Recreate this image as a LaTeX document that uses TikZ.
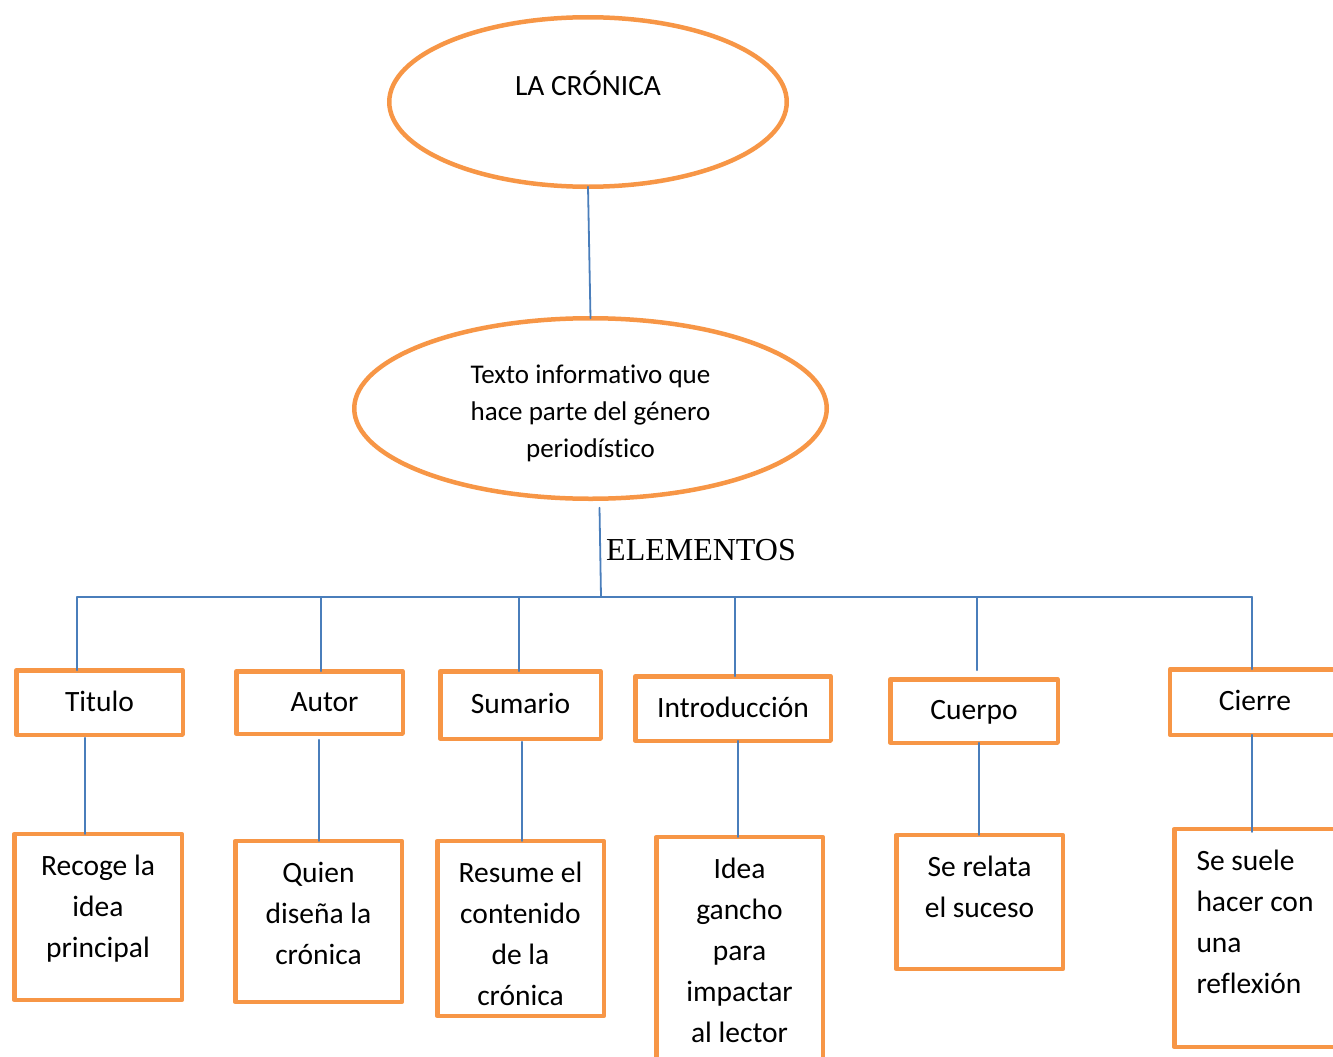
\documentclass[tikz,border=0pt]{standalone}
\usepackage{fontspec}
\setmainfont{Carlito}[Ligatures=NoCommon]
\newfontfamily\romanfont{Liberation Serif}
\usetikzlibrary{shapes.geometric}
\definecolor{naranja}{HTML}{F79646}
\definecolor{azul}{HTML}{4A7EBB}
\tikzset{
  oval/.style={ellipse,draw=naranja,line width=4.5pt,inner sep=0pt,outer sep=0pt,
    align=center,font=\fontsize{27}{37}\selectfont},
  parte/.style={rectangle,draw=naranja,line width=4.5pt,inner sep=0pt,outer sep=0pt,
    text height=20pt,text depth=3pt,font=\fontsize{29.5}{41}\selectfont},
  detalle/.style={rectangle,draw=naranja,line width=4.5pt,inner sep=0pt,outer sep=0pt,
    align=center,anchor=north,font=\fontsize{29.5}{41}\selectfont},
  enlace/.style={draw=azul,line width=1.8pt}
}
\begin{document}
\begin{tikzpicture}[x=1pt,y=-1pt,line cap=round,line join=round]
  \useasboundingbox (0,0) rectangle (1333,1057);
  % ovalos
  \node[oval,minimum width=397.5,minimum height=169.5,text height=21pt,text depth=34pt,
    font=\fontsize{29.4}{37}\selectfont] (cronica) at (588,102) {LA CRÓNICA};
  \node[oval,minimum width=472.5,minimum height=180.5,text height=110pt,text depth=13pt]
    (texto) at (590.5,408.5) {Texto informativo que\\hace parte del género\\periodístico};
  \draw[enlace] (cronica.south) -- (texto.north);
  % elementos
  \coordinate (busL) at (77,597); \coordinate (busR) at (1252,597);
  \coordinate (elem) at (601,597);
  \node[anchor=base west,inner sep=0pt,font=\romanfont\fontsize{32}{36}\selectfont]
    (etiq) at (606,560) {ELEMENTOS};
  \draw[enlace] ([xshift=9pt,yshift=-9pt]texto.south) -- (elem);
  \draw[enlace] (busL) -- (busR);
  % partes
  \node[parte,minimum width=166.5,minimum height=64.5] (tit) at (99.5,702.5) {Titulo};
  \node[parte,minimum width=166.5,minimum height=62.5] (aut) at (319.5,702.5) {\hspace{10pt}Autor};
  \node[parte,minimum width=160.5,minimum height=67.5] (sum) at (520.5,705) {Sumario};
  \node[parte,minimum width=195.5,minimum height=64.5] (int) at (733,708.5) {Introducción};
  \node[parte,minimum width=167.5,minimum height=63.5] (cue) at (974,711) {Cuerpo};
  \node[parte,minimum width=170,minimum height=65.5] (cie) at (1255,702) {Cierre};
  \draw[enlace] (busL) -- (busL |- tit.north);
  \draw[enlace] ([xshift=1.5pt]aut.north) -- ([xshift=1.5pt]aut.north |- busL);
  \draw[enlace] ([xshift=-1.5pt]sum.north) -- ([xshift=-1.5pt]sum.north |- busL);
  \draw[enlace] ([xshift=2pt]int.north) -- ([xshift=2pt]int.north |- busL);
  \draw[enlace] ([xshift=3pt,yshift=9pt]cue.north) -- ([xshift=3pt]cue.north |- busL);
  \draw[enlace] (busR) -- (busR |- cie.north);
  % detalles
  \node[detalle,minimum width=167.5,text height=123.5pt,text depth=42.5pt] (rec) at (98,834)
    {Recoge la\\idea\\principal};
  \node[detalle,minimum width=166.5,text height=123.5pt,text depth=37.5pt] (qui) at (318.5,841)
    {Quien\\diseña la\\crónica};
  \node[detalle,minimum width=166.5,text height=164.5pt,text depth=10.5pt] (res) at (520.5,841)
    {Resume el\\contenido\\de la\\crónica};
  \node[detalle,minimum width=166.5,text height=205.5pt,text depth=37.5pt] (ide) at (739.5,837)
    {Idea\\gancho\\para\\impactar\\al lector};
  \node[detalle,minimum width=166.5,text height=82.5pt,text depth=51.5pt] (rel) at (979.5,835)
    {Se relata\\el suceso};
  \node[detalle,align=left,minimum width=161.5,text height=164.5pt,text depth=53.5pt]
    (ref) at (1255,829) {Se suele\\hacer con\\una\\reflexión};
  \draw[enlace] ([xshift=-14.5pt,yshift=-3pt]tit.south) -- ([xshift=-14.5pt]tit.south |- rec.north);
  \draw[enlace] ([xshift=-0.5pt,yshift=-6pt]aut.south) -- ([xshift=-0.5pt]aut.south |- qui.north);
  \draw[enlace] ([xshift=1.5pt,yshift=-3pt]sum.south) -- ([xshift=1.5pt]sum.south |- res.north);
  \draw[enlace] ([xshift=5pt]int.south) -- ([xshift=5pt]int.south |- ide.north);
  \draw[enlace] ([xshift=5pt]cue.south) -- ([xshift=5pt]cue.south |- rel.north);
  \draw[enlace] ([xshift=-3pt]cie.south) -- ([xshift=-3pt,yshift=-3pt]cie.south |- ref.north);
\end{tikzpicture}
\end{document}
